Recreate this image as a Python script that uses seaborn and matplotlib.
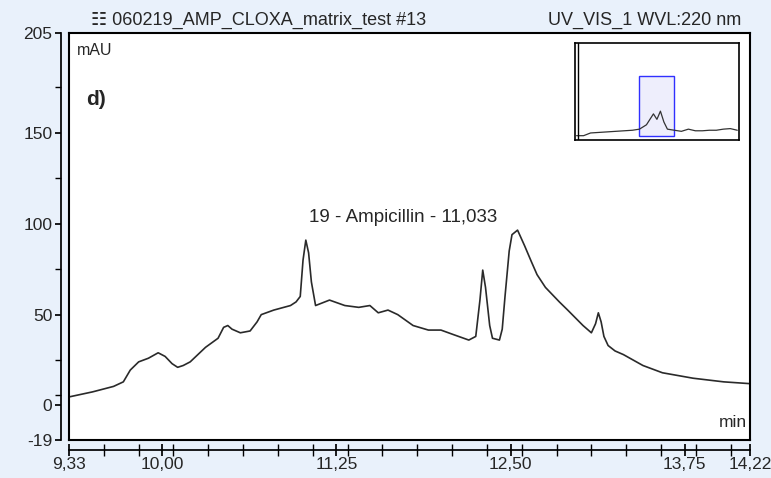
import matplotlib
matplotlib.use("Agg")
import matplotlib.pyplot as plt
import seaborn as sns
import pandas as pd
from matplotlib.patches import Rectangle

time_min = [9.33, 9.50, 9.65, 9.72, 9.77, 9.83, 9.90, 9.97, 10.02, 10.07, 10.11, 10.15, 10.20, 10.31, 10.40, 10.44,
            10.47, 10.50, 10.56, 10.63, 10.68, 10.71, 10.80, 10.92, 10.96, 10.99, 11.01, 11.03, 11.05, 11.07,
            11.10, 11.20, 11.31, 11.41, 11.49, 11.55, 11.62, 11.69, 11.80, 11.91, 12.00, 12.09, 12.20, 12.25,
            12.28, 12.30, 12.32, 12.35, 12.37, 12.42, 12.44, 12.46, 12.49, 12.51, 12.55, 12.60, 12.65, 12.69,
            12.75, 12.80, 12.85, 12.91, 13.02, 13.08, 13.11, 13.13, 13.15, 13.17, 13.20, 13.25, 13.31, 13.38,
            13.45, 13.59, 13.81, 14.03, 14.22]
signal_mau = [4.7, 7.5, 10.5, 13, 19.5, 24, 26, 29, 27, 23, 21, 22, 24, 32, 37, 43,
              44, 42, 40, 41, 46, 50, 52.5, 55, 57, 60, 80, 91, 84, 68,
              55, 58, 55, 54, 55, 51, 52.5, 50, 44, 41.5, 41.5, 39, 36, 38,
              58, 74.5, 65, 44, 37, 36, 42, 60, 85, 94, 96.5, 88, 79, 72,
              65, 61, 57, 52.5, 44, 40, 45, 51, 46, 38, 33, 30, 28, 25,
              22, 18, 15, 13, 12]
x_ticks = [9.33, 10.00, 11.25, 12.50, 13.75, 14.22]
x_labels = ["9,33", "10,00", "11,25", "12,50", "13,75", "14,22"]
y_ticks = [-19, 0, 50, 100, 150, 205]

inset_t = [0, 1, 2, 8, 9, 10, 11, 11.5, 12, 12.5, 13, 14, 15, 16, 17, 18, 19, 20, 21, 22, 23]
inset_v = [0, 0, 5, 10, 12, 20, 40, 30, 45, 25, 12, 10, 8, 12, 9, 9, 10, 10, 12, 13, 10]

sns.set_theme(style="white")
plt.rcParams["font.family"] = ["Liberation Sans", "DejaVu Sans"]
plt.rcParams["axes.unicode_minus"] = False
bg = "#e9f1fb"
fig = plt.figure(figsize=(7.71, 4.78), dpi=100, facecolor=bg)
ax = fig.add_axes([0.0895, 0.0795, 0.8835, 0.8515])
ax.set_facecolor("white")
df = pd.DataFrame({"t": time_min, "v": signal_mau})
sns.lineplot(data=df, x="t", y="v", ax=ax, color="#2a2a2a", lw=1.2)
ax.set_xlim(9.33, 14.22)
ax.set_ylim(-19, 205)
ax.set_xlabel(""); ax.set_ylabel("")
ax.set_xticks([]); ax.set_yticks([])
for s in ax.spines.values():
    s.set_color("black"); s.set_linewidth(1.5)

yax = ax.twinx()
yax.set_ylim(-19, 205)
yax.spines["right"].set_visible(False); yax.spines["top"].set_visible(False); yax.spines["bottom"].set_visible(False)
yax.spines["left"].set_position(("outward", 6)); yax.spines["left"].set_color("black")
yax.yaxis.set_ticks_position("left")
yax.set_yticks(y_ticks)
yax.set_yticks([6, 25, 75, 125, 175], minor=True)
yax.tick_params(axis="y", which="both", left=True, direction="out", length=4, labelsize=12.5, color="black", pad=2)
xax = fig.add_axes([0.0895, 0.058, 0.8835, 0.001])
xax.set_xlim(9.33, 14.22)
for k in ["left", "right", "top"]:
    xax.spines[k].set_visible(False)
xax.spines["bottom"].set_color("black")
xax.set_yticks([])
xax.set_xticks(x_ticks)
xax.set_xticklabels(x_labels)
xax.set_xticks([9.33 + i * 0.25 for i in range(20)], minor=True)
xax.tick_params(axis="x", which="both", top=False, bottom=True, direction="inout", length=8,
                labelsize=12.5, pad=1, color="black")
xax.set_facecolor(bg)

ax.text(0.012, 0.975, "mAU", transform=ax.transAxes, ha="left", va="top", fontsize=11.5)
ax.text(0.025, 0.86, "d)", transform=ax.transAxes, ha="left", va="top", fontsize=15, fontweight="bold")
ax.text(0.995, 0.025, "min", transform=ax.transAxes, ha="right", va="bottom", fontsize=12.5)
ax.text(11.73, 99, "19 - Ampicillin - 11,033", ha="center", va="bottom", fontsize=13.5)
fig.text(0.118, 0.958, "\u2637 060219_AMP_CLOXA_matrix_test #13", ha="left", va="center", fontsize=13)
fig.text(0.962, 0.958, "UV_VIS_1 WVL:220 nm", ha="right", va="center", fontsize=13)

ins = fig.add_axes([0.746, 0.707, 0.213, 0.203])
ins.plot(inset_t, inset_v, color="#333333", lw=0.9)
ins.axvline(0.15, color="black", lw=1)
ins.add_patch(Rectangle((9, 0), 5, 110, facecolor="#eeeefc", edgecolor="#3030ff", lw=1, zorder=0))
ins.set_xlim(-0.2, 23.3); ins.set_ylim(-8, 170)
ins.set_xticks([]); ins.set_yticks([])
for s in ins.spines.values():
    s.set_color("black"); s.set_linewidth(1.2)

fig.savefig("out.png", dpi=100, facecolor=bg)
